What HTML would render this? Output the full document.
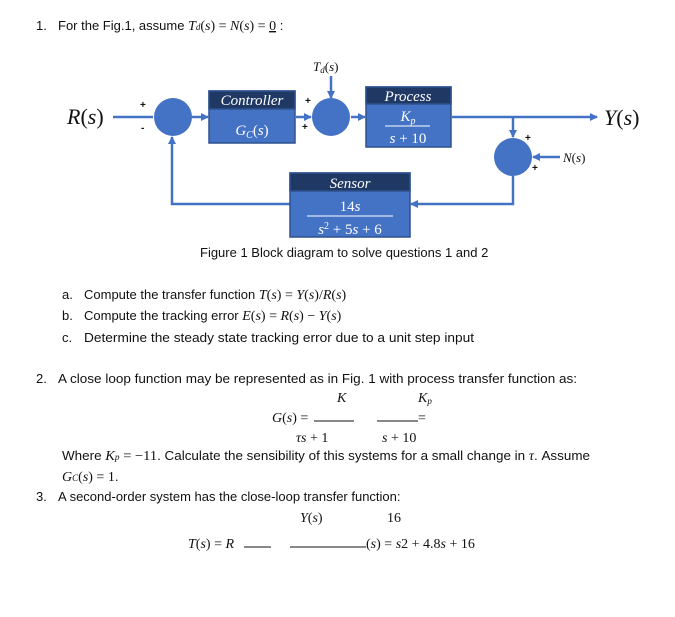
<!DOCTYPE html>
<html><head><meta charset="utf-8"><style>
html,body{margin:0;padding:0;background:#fff;width:675px;height:617px;overflow:hidden}
svg{display:block}
.t{font-family:"Liberation Sans",sans-serif;font-size:13px;fill:#111}
.m{font-family:"Liberation Serif",serif;font-size:14px;fill:#111;font-style:italic}
.mn{font-family:"Liberation Serif",serif;font-size:14px;fill:#111}
.w{font-family:"Liberation Serif",serif;fill:#fff;font-style:italic;font-size:15px}
</style></head><body>
<svg width="675" height="617" viewBox="0 0 675 617">
<defs><marker id="a" markerWidth="8" markerHeight="8" refX="7" refY="4" orient="auto" markerUnits="userSpaceOnUse"><path d="M0,0 L8,4 L0,8 Z" fill="#4472c4"/></marker></defs>
<text class="t" x="36" y="30">1.</text>
<text class="t" x="58" y="30">For the Fig.1, assume <tspan class="m">T</tspan><tspan class="m" style="font-size:9px">d</tspan><tspan class="mn">(</tspan><tspan class="m">s</tspan><tspan class="mn">) = </tspan><tspan class="m">N</tspan><tspan class="mn">(</tspan><tspan class="m">s</tspan><tspan class="mn">) = </tspan><tspan class="mn" text-decoration="underline">0</tspan> :</text>

<g stroke="#4472c4" stroke-width="2.5" fill="none">
<line x1="113" y1="117" x2="153" y2="117"/>
<line x1="192" y1="117" x2="208" y2="117" marker-end="url(#a)"/>
<line x1="296" y1="117" x2="311" y2="117" marker-end="url(#a)"/>
<line x1="331" y1="76" x2="331" y2="98" marker-end="url(#a)"/>
<line x1="351" y1="117" x2="365" y2="117" marker-end="url(#a)"/>
<line x1="452" y1="117" x2="597" y2="117" marker-end="url(#a)"/>
<line x1="513" y1="117" x2="513" y2="137" marker-end="url(#a)"/>
<line x1="560" y1="157" x2="533" y2="157" marker-end="url(#a)"/>
<polyline points="513,176 513,204 411,204" marker-end="url(#a)"/>
<polyline points="290,204 172,204 172,137" marker-end="url(#a)"/>
</g>
<g fill="#4472c4">
<circle cx="173" cy="117" r="19"/>
<circle cx="331" cy="117" r="19"/>
<circle cx="513" cy="157" r="19"/>
</g>
<g stroke="#2f528f" stroke-width="1.5">
<rect x="209" y="91" width="86" height="52" fill="#4472c4"/>
<rect x="209" y="91" width="86" height="18" fill="#1f3864"/>
<rect x="366" y="87" width="85" height="60" fill="#4472c4"/>
<rect x="366" y="87" width="85" height="17" fill="#1f3864"/>
<rect x="290" y="173" width="120" height="64" fill="#4472c4"/>
<rect x="290" y="173" width="120" height="18" fill="#1f3864"/>
</g>
<text class="w" x="252" y="105" text-anchor="middle">Controller</text>
<text class="w" x="252" y="135" text-anchor="middle">G<tspan style="font-size:10px" dy="3">C</tspan><tspan dy="-3" font-style="normal">(</tspan>s<tspan font-style="normal">)</tspan></text>
<text class="w" x="408" y="101" text-anchor="middle">Process</text>
<text class="w" x="408" y="121" text-anchor="middle">K<tspan style="font-size:10px" dy="3">p</tspan></text>
<line x1="385" y1="126" x2="430" y2="126" stroke="#fff" stroke-width="1"/>
<text class="w" x="408" y="143" text-anchor="middle">s <tspan font-style="normal">+ 10</tspan></text>
<text class="w" x="350" y="188" text-anchor="middle">Sensor</text>
<text class="w" x="350" y="211" text-anchor="middle"><tspan font-style="normal">14</tspan>s</text>
<line x1="307" y1="216" x2="393" y2="216" stroke="#fff" stroke-width="1"/>
<text class="w" x="350" y="234" text-anchor="middle">s<tspan font-style="normal" style="font-size:10px" dy="-5">2</tspan><tspan font-style="normal" dy="5"> + 5</tspan>s<tspan font-style="normal"> + 6</tspan></text>

<text class="m" x="67" y="124" style="font-size:22px">R<tspan font-style="normal">(</tspan>s<tspan font-style="normal">)</tspan></text>
<text class="m" x="604" y="125" style="font-size:22px">Y<tspan font-style="normal">(</tspan>s<tspan font-style="normal">)</tspan></text>
<text class="m" x="313" y="71" style="font-size:13px">T<tspan style="font-size:9px" dy="2">d</tspan><tspan dy="-2" font-style="normal">(</tspan>s<tspan font-style="normal">)</tspan></text>
<text class="m" x="563" y="162" style="font-size:13px">N<tspan font-style="normal">(</tspan>s<tspan font-style="normal">)</tspan></text>
<g class="t" style="font-size:10px;font-weight:bold">
<text x="140" y="108">+</text><text x="141" y="131">-</text>
<text x="305" y="104">+</text><text x="302" y="130">+</text>
<text x="525" y="141">+</text><text x="532" y="171">+</text>
</g>
<text class="t" x="200" y="257">Figure 1 Block diagram to solve questions 1 and 2</text>

<text class="t" x="62" y="299">a.</text><text class="t" x="84" y="299">Compute the transfer function <tspan class="m">T</tspan><tspan class="mn">(</tspan><tspan class="m">s</tspan><tspan class="mn">) = </tspan><tspan class="m">Y</tspan><tspan class="mn">(</tspan><tspan class="m">s</tspan><tspan class="mn">)/</tspan><tspan class="m">R</tspan><tspan class="mn">(</tspan><tspan class="m">s</tspan><tspan class="mn">)</tspan></text>
<text class="t" x="62" y="320">b.</text><text class="t" x="84" y="320">Compute the tracking error <tspan class="m">E</tspan><tspan class="mn">(</tspan><tspan class="m">s</tspan><tspan class="mn">) = </tspan><tspan class="m">R</tspan><tspan class="mn">(</tspan><tspan class="m">s</tspan><tspan class="mn">) − </tspan><tspan class="m">Y</tspan><tspan class="mn">(</tspan><tspan class="m">s</tspan><tspan class="mn">)</tspan></text>
<text class="t" x="62" y="342">c.</text><text class="t" x="84" y="342" textLength="390" lengthAdjust="spacingAndGlyphs">Determine the steady state tracking error due to a unit step input</text>

<text class="t" x="36" y="383">2.</text>
<text class="t" x="58" y="383" textLength="519" lengthAdjust="spacingAndGlyphs">A close loop function may be represented as in Fig. 1 with process transfer function as:</text>
<text class="m" x="337" y="402">K</text>
<text class="m" x="418" y="402">K<tspan style="font-size:9px" dy="2">p</tspan></text>
<text class="mn" x="272" y="422"><tspan font-style="italic">G</tspan>(<tspan font-style="italic">s</tspan>) =</text>
<line x1="314" y1="421" x2="354" y2="421" stroke="#111" stroke-width="1"/>
<line x1="377" y1="421" x2="418" y2="421" stroke="#111" stroke-width="1"/>
<text class="mn" x="418" y="422">=</text>
<text class="mn" x="296" y="442"><tspan font-style="italic">τs</tspan> + 1</text>
<text class="mn" x="382" y="442"><tspan font-style="italic">s</tspan> + 10</text>
<text class="t" x="62" y="460" textLength="528" lengthAdjust="spacingAndGlyphs">Where <tspan class="m">K</tspan><tspan class="m" style="font-size:9px">p</tspan><tspan class="mn"> = −11</tspan>. Calculate the sensibility of this systems for a small change in <tspan class="m">τ</tspan>. Assume</text>
<text class="t" x="62" y="481"><tspan class="m">G</tspan><tspan class="m" style="font-size:9px">C</tspan><tspan class="mn">(</tspan><tspan class="m">s</tspan><tspan class="mn">) = 1</tspan>.</text>
<text class="t" x="36" y="501">3.</text>
<text class="t" x="58" y="501">A second-order system has the close-loop transfer function:</text>
<text class="mn" x="300" y="522"><tspan font-style="italic">Y</tspan>(<tspan font-style="italic">s</tspan>)</text>
<text class="mn" x="387" y="522">16</text>
<text class="mn" x="188" y="548"><tspan font-style="italic">T</tspan>(<tspan font-style="italic">s</tspan>) = <tspan font-style="italic">R</tspan></text>
<line x1="244" y1="547" x2="271" y2="547" stroke="#111" stroke-width="1"/>
<line x1="290" y1="547" x2="366" y2="547" stroke="#111" stroke-width="1"/>
<text class="mn" x="366" y="548">(<tspan font-style="italic">s</tspan>) = <tspan font-style="italic">s</tspan>2 + 4.8<tspan font-style="italic">s</tspan> + 16</text>
</svg>
</body></html>
